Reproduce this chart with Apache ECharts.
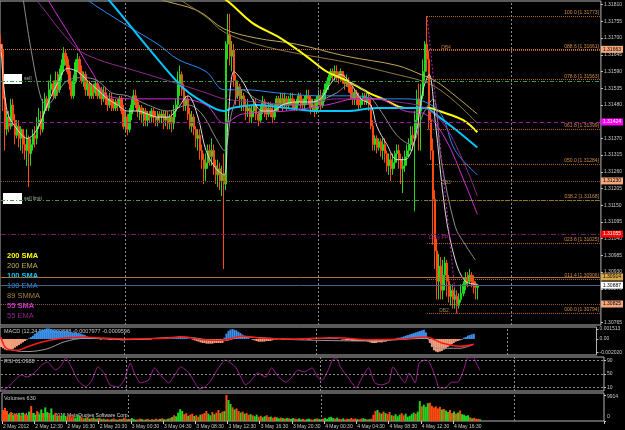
<!DOCTYPE html>
<html><head><meta charset="utf-8">
<script src="https://cdn.jsdelivr.net/npm/echarts@6/dist/echarts.min.js"></script>
<style>html,body{margin:0;padding:0;background:#000;}#c{width:625px;height:430px;}</style>
</head><body><div id="c"></div>
<script>
// ---------- DATA ----------
const slotCount = 299;
const dateLabels = ['2 May 2012','2 May 12:30','2 May 16:30','2 May 20:30','3 May 00:30','3 May 04:30','3 May 08:30','3 May 12:30','3 May 16:30','3 May 20:30','4 May 00:30','4 May 04:30','4 May 08:30','4 May 12:30','4 May 16:30'];
const priceTicks = [1.31810,1.31755,1.31700,1.31645,1.31590,1.31535,1.31480,1.31425,1.31370,1.31315,1.31260,1.31205,1.31150,1.31095,1.31040,1.30985,1.30930,1.30875,1.30820,1.30765];
// [open, close, low, high]
const ohlc = [
[1.3168,1.3166,1.3164,1.3171],[1.3166,1.3150,1.3146,1.3168],[1.3150,1.3140,1.3133,1.3151],[1.3140,1.3144,1.3138,1.3146],[1.3144,1.3141,1.3139,1.3146],
[1.3141,1.3148,1.3140,1.3150],[1.3148,1.3143,1.3141,1.3150],[1.3143,1.3138,1.3135,1.3145],[1.3138,1.3141,1.3137,1.3143],[1.3141,1.3137,1.3134,1.3143],
[1.3137,1.3140,1.3133,1.3141],[1.3140,1.3135,1.3132,1.3140],[1.3135,1.3133,1.3130,1.3138],[1.3133,1.3137,1.3128,1.3140],[1.3137,1.3132,1.3121,1.3138],
[1.3132,1.3135,1.3128,1.3137],[1.3135,1.3138,1.3133,1.3140],[1.3138,1.3137,1.3134,1.3141],[1.3137,1.3141,1.3135,1.3144],[1.3141,1.3143,1.3140,1.3147],
[1.3143,1.3140,1.3138,1.3146],[1.3140,1.3146,1.3139,1.3150],[1.3146,1.3150,1.3145,1.3152],[1.3150,1.3147,1.3146,1.3151],[1.3147,1.3153,1.3146,1.3156],
[1.3153,1.3155,1.3151,1.3158],[1.3155,1.3151,1.3150,1.3156],[1.3151,1.3156,1.3150,1.3159],[1.3156,1.3153,1.3151,1.3159],[1.3153,1.3158,1.3152,1.3160],
[1.3158,1.3161,1.3156,1.3163],[1.3161,1.3165,1.3159,1.3167],[1.3165,1.3163,1.3161,1.3166],[1.3163,1.3159,1.3158,1.3164],[1.3159,1.3155,1.3153,1.3161],
[1.3155,1.3151,1.3150,1.3156],[1.3151,1.3156,1.3150,1.3158],[1.3156,1.3162,1.3155,1.3163],[1.3162,1.3163,1.3159,1.3165],[1.3163,1.3159,1.3158,1.3164],
[1.3159,1.3156,1.3155,1.3161],[1.3156,1.3158,1.3154,1.3159],[1.3158,1.3153,1.3151,1.3159],[1.3153,1.3155,1.3151,1.3156],[1.3155,1.3151,1.3150,1.3156],
[1.3151,1.3154,1.3150,1.3155],[1.3154,1.3152,1.3150,1.3155],[1.3152,1.3155,1.3151,1.3156],[1.3155,1.3151,1.3150,1.3156],[1.3151,1.3153,1.3150,1.3154],
[1.3153,1.3150,1.3148,1.3154],[1.3150,1.3152,1.3149,1.3154],[1.3152,1.3150,1.3148,1.3154],[1.3150,1.3148,1.3146,1.3151],[1.3148,1.3150,1.3147,1.3152],
[1.3150,1.3148,1.3146,1.3152],[1.3148,1.3147,1.3146,1.3150],[1.3147,1.3149,1.3146,1.3150],[1.3149,1.3148,1.3146,1.3150],[1.3148,1.3150,1.3147,1.3151],
[1.3150,1.3146,1.3145,1.3151],[1.3146,1.3141,1.3140,1.3148],[1.3141,1.3144,1.3139,1.3146],[1.3144,1.3140,1.3138,1.3145],[1.3140,1.3145,1.3139,1.3147],
[1.3145,1.3148,1.3143,1.3150],[1.3148,1.3151,1.3146,1.3153],[1.3151,1.3149,1.3147,1.3153],[1.3149,1.3146,1.3144,1.3150],[1.3146,1.3147,1.3143,1.3148],
[1.3147,1.3145,1.3142,1.3148],[1.3145,1.3146,1.3141,1.3147],[1.3146,1.3143,1.3141,1.3147],[1.3143,1.3145,1.3141,1.3146],[1.3145,1.3144,1.3142,1.3146],
[1.3144,1.3146,1.3142,1.3147],[1.3146,1.3144,1.3142,1.3147],[1.3144,1.3143,1.3141,1.3146],[1.3143,1.3145,1.3141,1.3146],[1.3145,1.3144,1.3142,1.3146],
[1.3144,1.3145,1.3142,1.3146],[1.3145,1.3143,1.3140,1.3146],[1.3143,1.3144,1.3141,1.3146],[1.3144,1.3142,1.3140,1.3146],[1.3142,1.3144,1.3140,1.3145],
[1.3144,1.3142,1.3139,1.3146],[1.3142,1.3146,1.3140,1.3148],[1.3146,1.3148,1.3144,1.3150],[1.3148,1.3155,1.3147,1.3159],[1.3155,1.3158,1.3151,1.3161],
[1.3158,1.3153,1.3151,1.3159],[1.3153,1.3148,1.3146,1.3155],[1.3148,1.3150,1.3146,1.3151],[1.3150,1.3145,1.3143,1.3151],[1.3145,1.3141,1.3140,1.3147],
[1.3141,1.3144,1.3139,1.3146],[1.3144,1.3140,1.3138,1.3145],[1.3140,1.3137,1.3134,1.3141],[1.3137,1.3138,1.3133,1.3140],[1.3138,1.3133,1.3130,1.3140],
[1.3133,1.3130,1.3127,1.3135],[1.3130,1.3127,1.3122,1.3132],[1.3127,1.3129,1.3123,1.3132],[1.3129,1.3133,1.3127,1.3135],[1.3133,1.3131,1.3128,1.3135],
[1.3131,1.3133,1.3128,1.3137],[1.3133,1.3128,1.3125,1.3135],[1.3128,1.3125,1.3122,1.3130],[1.3125,1.3127,1.3121,1.3130],[1.3127,1.3123,1.3120,1.3129],
[1.3123,1.3125,1.3118,1.3128],[1.3125,1.3122,1.3094,1.3132],[1.3122,1.3168,1.3120,1.3169],[1.3168,1.3171,1.3163,1.3178],[1.3171,1.3164,1.3161,1.3178],
[1.3164,1.3166,1.3159,1.3169],[1.3166,1.3156,1.3154,1.3168],[1.3156,1.3151,1.3148,1.3158],[1.3151,1.3154,1.3150,1.3156],[1.3154,1.3150,1.3147,1.3155],
[1.3150,1.3151,1.3146,1.3153],[1.3151,1.3148,1.3146,1.3152],[1.3148,1.3146,1.3143,1.3150],[1.3146,1.3147,1.3144,1.3150],[1.3147,1.3144,1.3142,1.3148],
[1.3144,1.3146,1.3142,1.3148],[1.3146,1.3148,1.3144,1.3150],[1.3148,1.3145,1.3143,1.3150],[1.3145,1.3143,1.3141,1.3146],[1.3143,1.3146,1.3142,1.3148],
[1.3146,1.3149,1.3145,1.3151],[1.3149,1.3146,1.3144,1.3150],[1.3146,1.3145,1.3143,1.3148],[1.3145,1.3147,1.3144,1.3149],[1.3147,1.3146,1.3144,1.3149],
[1.3146,1.3144,1.3142,1.3148],[1.3144,1.3146,1.3143,1.3148],[1.3146,1.3150,1.3146,1.3151],[1.3150,1.3148,1.3146,1.3151],[1.3148,1.3150,1.3147,1.3152],
[1.3150,1.3148,1.3146,1.3152],[1.3148,1.3150,1.3147,1.3152],[1.3150,1.3148,1.3146,1.3151],[1.3148,1.3149,1.3147,1.3151],[1.3149,1.3150,1.3148,1.3152],
[1.3150,1.3148,1.3147,1.3152],[1.3148,1.3147,1.3146,1.3150],[1.3147,1.3149,1.3146,1.3150],[1.3149,1.3151,1.3148,1.3152],[1.3151,1.3149,1.3147,1.3152],
[1.3149,1.3148,1.3146,1.3150],[1.3148,1.3150,1.3146,1.3151],[1.3150,1.3151,1.3148,1.3153],[1.3151,1.3150,1.3148,1.3153],[1.3150,1.3147,1.3145,1.3151],
[1.3147,1.3148,1.3146,1.3150],[1.3148,1.3146,1.3144,1.3150],[1.3146,1.3150,1.3145,1.3151],[1.3150,1.3151,1.3148,1.3153],[1.3151,1.3148,1.3146,1.3153],
[1.3148,1.3150,1.3147,1.3152],[1.3150,1.3153,1.3149,1.3155],[1.3153,1.3155,1.3152,1.3156],[1.3155,1.3157,1.3153,1.3158],[1.3157,1.3159,1.3156,1.3160],
[1.3159,1.3158,1.3156,1.3160],[1.3158,1.3159,1.3156,1.3161],[1.3159,1.3158,1.3156,1.3161],[1.3158,1.3157,1.3155,1.3159],[1.3157,1.3159,1.3156,1.3160],
[1.3159,1.3156,1.3155,1.3159],[1.3156,1.3155,1.3153,1.3158],[1.3155,1.3156,1.3154,1.3158],[1.3156,1.3154,1.3152,1.3157],[1.3154,1.3152,1.3150,1.3155],
[1.3152,1.3150,1.3148,1.3154],[1.3150,1.3152,1.3148,1.3153],[1.3152,1.3150,1.3148,1.3153],[1.3150,1.3148,1.3146,1.3152],[1.3148,1.3150,1.3147,1.3151],
[1.3150,1.3151,1.3148,1.3152],[1.3151,1.3149,1.3148,1.3152],[1.3149,1.3150,1.3148,1.3152],[1.3150,1.3148,1.3146,1.3152],[1.3148,1.3141,1.3140,1.3150],
[1.3141,1.3135,1.3133,1.3143],[1.3135,1.3137,1.3133,1.3138],[1.3137,1.3134,1.3132,1.3138],[1.3134,1.3136,1.3133,1.3137],[1.3136,1.3133,1.3131,1.3137],
[1.3133,1.3135,1.3130,1.3137],[1.3135,1.3132,1.3129,1.3137],[1.3132,1.3128,1.3126,1.3133],[1.3128,1.3130,1.3125,1.3132],[1.3130,1.3127,1.3123,1.3132],
[1.3127,1.3129,1.3125,1.3132],[1.3129,1.3132,1.3127,1.3133],[1.3132,1.3133,1.3129,1.3135],[1.3133,1.3130,1.3127,1.3135],[1.3130,1.3127,1.3122,1.3132],
[1.3127,1.3128,1.3119,1.3131],[1.3128,1.3131,1.3126,1.3133],[1.3131,1.3133,1.3128,1.3135],[1.3133,1.3135,1.3131,1.3137],[1.3135,1.3138,1.3133,1.3141],
[1.3138,1.3137,1.3133,1.3141],[1.3137,1.3143,1.3113,1.3146],[1.3143,1.3150,1.3140,1.3153],[1.3150,1.3146,1.3133,1.3155],[1.3146,1.3151,1.3133,1.3155],
[1.3151,1.3159,1.3150,1.3163],[1.3159,1.3168,1.3156,1.3169],[1.3168,1.3163,1.3159,1.31773],[1.3163,1.3143,1.3140,1.3166],[1.3143,1.3133,1.3130,1.3146],
[1.3133,1.3117,1.3102,1.3137],[1.3117,1.3100,1.3094,1.3120],[1.3100,1.3090,1.3084,1.3104],[1.3090,1.3095,1.3084,1.3099],[1.3095,1.3087,1.3084,1.3098],
[1.3087,1.3092,1.3084,1.3097],[1.3092,1.3096,1.3087,1.3098],[1.3096,1.3090,1.3085,1.3097],[1.3090,1.3085,1.3083,1.3092],[1.3085,1.3087,1.3082,1.3089],
[1.3087,1.3084,1.3081,1.3089],[1.3084,1.3085,1.3081,1.3088],[1.3085,1.3082,1.30794,1.3087],[1.3082,1.3084,1.3081,1.3086],[1.3084,1.3086,1.3083,1.3089],
[1.3086,1.3089,1.3085,1.3090],[1.3089,1.3091,1.3087,1.3093],[1.3091,1.3090,1.3088,1.3093],[1.3090,1.3092,1.3089,1.3094],[1.3092,1.3090,1.3088,1.3093],
[1.3090,1.3089,1.3086,1.3092],[1.3089,1.3088,1.3084,1.3090],[1.3088,1.30887,1.3084,1.3089]
];
const volumes = [
4200,5000,3800,2600,3400,2200,2800,
2400,3000,2000,3200,2600,1800,3600,5700,3000,2400,
3800,2600,4400,3000,5200,3400,2800,
4800,2400,3000,1800,2200,1600,2600,
2000,1600,2400,1400,1800,1200,1600,2200,1400,1000,1200,1500,900,1100,1300,800,1000,1200,
700,900,600,800,500,700,1000,600,500,800,700,1200,900,600,800,1100,700,500,600,900,700,500,600,800,400,700,500,900,600,800,1000,700,600,900,1100,
1500,2200,1800,3200,4500,3800,2600,3000,2000,2400,2800,1900,2200,1600,2400,
2600,3000,3800,2800,2200,3400,2600,3200,4200,3000,3600,3800,
9914,8000,6500,5200,4400,4800,3800,3200,3600,2800,3000,2400,2600,
2200,1800,2400,1600,2000,1400,1800,2200,1500,1700,1200,1600,1400,1000,1300,1100,900,1200,1000,800,1100,900,700,1000,
600,800,500,700,900,600,500,800,1000,700,600,900,1200,800,1400,1600,1100,900,1300,800,700,1000,600,900,700,1200,800,1000,700,600,900,1100,800,600,700,900,
2400,3800,4200,3200,2800,3600,3000,2600,3400,2200,
2000,2600,1800,2400,3000,2200,2800,1600,2000,2600,3200,2800,3600,
7600,5600,6200,5400,6800,7000,
5800,5200,5600,4800,5400,4400,4600,
4000,3400,4200,3000,3600,2800,3200,4000,2600,2400,2000,2200,
1400,1000,1200,900,800,630
];
const macdHist = [
-0.0012,-0.0014,-0.0016,-0.0017,-0.0017,-0.0016,-0.0015,-0.0013,-0.0011,-0.0009,-0.0007,-0.0005,-0.0003,-0.0001,
0.0001,0.0003,0.0005,0.0008,0.0010,0.0012,0.0013,0.0014,0.0015,0.0016,0.0016,0.0015,0.0014,0.0013,0.0013,0.0012,0.0012,0.0012,0.0012,0.0012,0.0011,0.0011,0.0010,0.0010,0.0009,0.0009,0.0008,0.0007,0.0006,0.0004,
0.0003,0.0002,0.0001,0.0001,0.0001,0,-0.0001,0,0.0001,0,-0.0001,-0.0001,0,0,-0.0001,-0.0001,-0.0002,-0.0002,-0.0002,-0.0001,-0.0001,0,0,-0.0001,-0.0001,-0.0001,-0.0001,-0.0001,-0.0001,-0.0001,-0.0001,-0.0001,
0,0.0001,0.0001,0.0001,0.0001,0.0001,0.0001,0.0001,0.0001,0.0001,0.0002,0.0002,0.0003,0.0004,0.0004,0.0003,0.0003,0.0002,
0.0001,0,-0.0001,-0.0002,-0.0003,-0.0004,-0.0005,-0.0006,-0.0006,-0.0007,-0.0007,-0.0007,-0.0007,-0.0006,-0.0006,-0.0006,-0.0006,
-0.0006,0.0002,0.0008,0.0012,0.0014,0.0015,0.0014,0.0013,0.0011,0.0009,0.0007,0.0005,0.0003,0.0002,
0,-0.0001,-0.0002,-0.0003,-0.0004,-0.0004,-0.0004,-0.0004,-0.0003,-0.0003,-0.0003,-0.0002,-0.0001,-0.0001,0,0,-0.0001,-0.0001,0,0,-0.0001,0,0,
0,0,0,-0.0001,0,0,-0.0001,-0.0001,0,0,0,0.0001,0.0001,0.0001,0.0002,0.0002,0.0003,0.0003,0.0003,0.0002,0.0002,0.0001,
0,-0.0001,-0.0001,-0.0002,-0.0002,-0.0002,-0.0003,-0.0003,-0.0003,-0.0003,-0.0003,-0.0003,-0.0003,-0.0003,-0.0004,-0.0005,-0.0006,-0.0006,-0.0006,-0.0005,
-0.0005,-0.0005,-0.0004,-0.0004,-0.0003,-0.0002,-0.0001,0,0.0001,0.0002,
0.0002,0.0003,0.0004,0.0005,0.0006,0.0007,0.0008,0.0009,0.0010,0.0011,0.0012,0.0013,0.0014,
0.0010,0.0002,-0.0006,-0.0012,-0.0017,-0.0019,-0.0020,-0.0019,-0.0018,-0.0016,-0.0014,-0.0012,-0.0010,-0.0008,-0.0006,-0.0004,-0.0003,-0.0002,-0.0001,
0.0002,0.0003,0.0005,0.0006,0.0007,0.0008
];
const macdSignal = [[0,0.0003],[3,-0.0015],[8,-0.0017],[13,-0.0012],[20,-0.0005],[28,0.0000],[42,0.0003],[48,0.0002],[64,0.0000],[81,0.0001],[91,0.0003],[101,-0.0001],[111,-0.0002],[121,0.0004],[131,0.0001],[147,0.0000],[168,0.0002],[185,-0.0001],[201,0.0000],[213,0.0003],[221,-0.0006],[230,-0.0011],[237,-0.0008]];
const macdMain = [[0,-0.0001],[3,-0.0014],[13,-0.0019],[23,-0.0015],[32,-0.0004],[42,0.0001],[64,-0.0001],[91,0.0003],[111,-0.0003],[121,0.0003],[147,-0.0001],[185,-0.0003],[213,0.0001],[218,-0.0014],[230,-0.0014],[237,-0.0008]];
const rsi = [[0,6],[1,3],[3,9],[7,32],[10,47],[13,41],[17,56],[20,76],[23,85],[27,62],[30,76],[32,97],[35,68],[38,32],[42,12],[45,32],[48,71],[51,53],[54,18],[58,12],[61,32],[64,82],[66,53],[69,24],[73,32],[76,68],[79,47],[83,24],[86,47],[89,71],[93,53],[96,24],[98,6],[101,12],[104,32],[107,62],[111,91],[116,71],[119,38],[121,18],[124,32],[127,53],[131,41],[134,68],[137,44],[141,26],[144,41],[147,62],[150,56],[152,62],[154,68],[157,38],[159,32],[162,62],[164,91],[166,97],[168,71],[172,38],[176,9],[178,32],[182,68],[185,24],[188,18],[192,26],[194,71],[197,47],[200,24],[202,53],[205,24],[207,82],[210,91],[212,85],[215,41],[217,9],[220,9],[223,26],[226,26],[229,62],[231,97],[234,98],[235,85],[237,61.1]];
const rsiLevels = [90, 50, 10];
const sma200 = [[102,1.3185],[111,1.3183],[125,1.3175],[139,1.3170],[152,1.3164],[162,1.3159],[172,1.3156],[183,1.3152],[190,1.3150],[201,1.3147],[209,1.3147],[213,1.3147],[218,1.3146],[230,1.3143],[237,1.3139]];
const ema200 = [[70,1.3186],[78,1.3183],[98,1.3179],[111,1.3173],[127,1.3170],[147,1.3168],[172,1.3164],[197,1.3161],[209,1.3158],[216,1.3156],[226,1.3151],[237,1.3145]];
const smma89 = [[80,1.3186],[88,1.3183],[102,1.3177],[111,1.3172],[127,1.3168],[147,1.3165],[172,1.3162],[197,1.3158],[209,1.3156],[216,1.3154],[226,1.3149],[237,1.3142]];
const sma100 = [[48,1.3186],[53,1.3183],[68,1.3171],[78,1.3163],[90,1.3154],[98,1.3150],[111,1.3146],[115,1.3147],[127,1.3148],[142,1.3147],[157,1.3146],[172,1.3146],[187,1.3147],[201,1.3147],[211,1.3147],[216,1.3145],[226,1.3140],[237,1.3134]];
const ema100 = [[38,1.3186],[42,1.3183],[63,1.3174],[78,1.3168],[88,1.3163],[102,1.3159],[111,1.3153],[122,1.3153],[137,1.3152],[157,1.3151],[177,1.3151],[187,1.3150],[201,1.3150],[211,1.3149],[219,1.3145],[226,1.3133],[237,1.3125]];
const sma55 = [[21,1.3186],[23,1.3183],[37,1.3168],[46,1.3158],[53,1.3151],[68,1.3150],[88,1.3150],[102,1.3148],[111,1.3142],[120,1.3145],[142,1.3146],[162,1.3148],[177,1.3150],[187,1.3150],[201,1.3146],[211,1.3145],[221,1.3137],[231,1.3122],[237,1.3112]];
const ema55 = [[13,1.3186],[17,1.3183],[37,1.3167],[48,1.3163],[63,1.3160],[83,1.3156],[102,1.3152],[111,1.3150],[127,1.3149],[147,1.3148],[167,1.3150],[182,1.3150],[197,1.3149],[211,1.3147],[221,1.3141],[231,1.3128],[237,1.3118]];
const fastMA = [[0,1.3168],[3,1.3146],[8,1.3140],[13,1.3137],[18,1.3140],[23,1.3148],[28,1.3155],[33,1.3160],[38,1.3159],[43,1.3156],[48,1.3153],[53,1.3150],[58,1.3148],[63,1.3146],[68,1.3146],[73,1.3145],[78,1.3144],[83,1.3144],[88,1.3147],[93,1.3151],[98,1.3144],[102,1.3133],[107,1.3127],[111,1.3125],[113,1.3143],[116,1.3159],[120,1.3156],[125,1.3150],[130,1.3146],[135,1.3146],[140,1.3148],[147,1.3149],[154,1.3149],[159,1.3150],[164,1.3155],[169,1.3158],[174,1.3155],[179,1.3150],[184,1.3148],[187,1.3141],[192,1.3135],[197,1.3130],[201,1.3130],[206,1.3137],[210,1.3153],[213,1.3158],[216,1.3143],[221,1.3113],[226,1.3097],[231,1.3090],[237,1.3089]];
const slowMA = [[11,1.3183],[15,1.3166],[20,1.3150],[23,1.3148],[28,1.3152],[33,1.3156],[41,1.3157],[48,1.3156],[55,1.3152],[63,1.3151],[73,1.3148],[83,1.3146],[93,1.3148],[100,1.3145],[107,1.3137],[111,1.3133],[115,1.3146],[120,1.3153],[127,1.3150],[137,1.3148],[147,1.3148],[157,1.3149],[167,1.3152],[174,1.3155],[182,1.3152],[189,1.3146],[197,1.3138],[204,1.3135],[210,1.3145],[215,1.3150],[219,1.3130],[226,1.3108],[231,1.3102],[236,1.3097]];
const fibNames = ['100.0','088.6','078.6','061.8','050.0','038.2','023.6','011.4','000.0'];
const fibPrices = [1.31773,1.31661,1.31563,1.31399,1.31284,1.31168,1.31025,1.30906,1.30794];
const fibStart = 212;
const swingPoints = [[212,1.31773],[227,1.30794]];
const levelPrices = [1.31663,1.31559,1.31424,1.31230,1.31168,1.31055,1.30914,1.30887,1.30825];
const annotations = [['DB4',219,1.3167],['DB3',219,1.31226],['Daily PP',213,1.31042],['DB2',218,1.30802]];
const macdTicks = [0.001513, 0, -0.00202];
const volTicks = [9914, 0];

// ---------- BUILD ----------
const cats = [];
const t0 = Date.UTC(2012,4,2,8,30);
for (let i = 0; i < slotCount; i++) {
  const d = new Date(t0 + i*900000);
  cats.push(d.getUTCDate() + ' May ' + String(d.getUTCHours()).padStart(2,'0') + ':' + String(d.getUTCMinutes()).padStart(2,'0'));
}
const dayBreaks = [];
cats.forEach((c,i)=>{ if (i>0 && c.endsWith('00:00')) dayBreaks.push(i); });

const FONT = '"Liberation Sans", Arial, sans-serif';
const AX = '#c8c8c8';
const UP = '#1fd81f', DOWN = '#ff4a12';
const firstCat = cats[0], lastCat = cats[slotCount-1];

const levelStyles = [
  {color:'#c8783a', type:'dotted', box:'#f6a77c', txt:'#000'},
  {color:'#3e9a3e', type:[4,2,1,2], box:null},
  {color:'#9a1a9a', type:[4,3], box:'#ff00ff', txt:'#fff'},
  {color:'#8b5a2b', type:'dotted', box:'#f6a77c', txt:'#000'},
  {color:'#3e9a3e', type:[4,2,1,2], box:null},
  {color:'#7e1a6c', type:[5,2,1,2], box:'#ff0000', txt:'#fff'},
  {color:'#a8763a', type:'solid', box:'#d9a84a', txt:'#000'},
  {color:'#4e6284', type:'solid', box:'#ffffff', txt:'#000'},
  {color:'#8b5a2b', type:'dotted', box:'#f6a77c', txt:'#000'}
];

const vSep = dayBreaks.map(i => ({xAxis: i, lineStyle:{color:'#8a8a8a', type:[2,2], width:1}, label:{show:false}}));

const markData = [];
levelPrices.forEach((p,k)=>{
  const st = levelStyles[k];
  markData.push([
    {coord:[firstCat, p], lineStyle:{color:st.color, type:st.type, width:1},
     label: st.box ? {show:true, position:'end', distance:1, formatter:p.toFixed(5), backgroundColor:st.box, color:st.txt, fontSize:5, fontFamily:FONT, padding:[1,2,1,2]} : {show:false}},
    {coord:[lastCat, p]}
  ]);
});
fibPrices.forEach((p,k)=>{
  markData.push([
    {coord:[cats[fibStart], p], lineStyle:{color:'#b8691f', type:'dotted', width:1},
     label:{show:true, position:'insideEndTop', distance:1, formatter: fibNames[k]+' ['+p.toFixed(5)+']', color:'#d08a48', fontSize:5, fontFamily:FONT}},
    {coord:[lastCat, p]}
  ]);
});
vSep.forEach(v => markData.push(v));

function ma(data, color, width) {
  return {type:'line', xAxisIndex:0, yAxisIndex:0, data:data, symbol:'none', smooth:0.35, silent:true,
    lineStyle:{color:color, width:width}, z:3, animation:false};
}

const axisBase = (gi, show) => ({
  type:'category', gridIndex:gi, data:cats, boundaryGap:true,
  axisLine:{show:false}, splitLine:{show:false},
  axisTick: show ? {show:true, length:3, lineStyle:{color:AX}, interval:(i,v)=> i===0 || dateLabels.indexOf(v)>=0} : {show:false},
  axisLabel: show ? {show:true, color:AX, fontSize:5, fontFamily:FONT, align:'left', margin:3,
     interval:(i,v)=> i===0 || dateLabels.indexOf(v)>=0, formatter:(v,i)=> i===0 ? dateLabels[0] : v} : {show:false}
});

const yBase = (gi, min, max, ticks, fmt) => ({
  type:'value', gridIndex:gi, position:'right', min:min, max:max, scale:true,
  axisLine:{show:false}, splitLine:{show:false},
  axisTick:{show:true, length:2, lineStyle:{color:AX}, customValues:ticks},
  axisLabel:{show:true, color:AX, fontSize:5, fontFamily:FONT, margin:3, customValues:ticks, formatter:fmt}
});

const grids = [
  {left:0, width:604, top:1, height:324},
  {left:0, width:604, top:327, height:28},
  {left:0, width:604, top:357, height:34},
  {left:0, width:604, top:393, height:28}
].map(g => Object.assign(g, {show:true, borderColor:'#b4b4b4', borderWidth:1, backgroundColor:'transparent', containLabel:false}));

const volAxis = yBase(3, 0, 10676, volTicks, v => v===0 ? '{lo|0}' : '{hi|'+v+'}');
volAxis.axisLabel.rich = {lo:{padding:[0,0,9,0], color:AX, fontSize:5, fontFamily:FONT}, hi:{padding:[3,0,0,0], color:AX, fontSize:5, fontFamily:FONT}};

const legendItems = [
  ['200 SMA','#ffff00',true],['200 EMA','#c0a858',false],['100 SMA','#00c8ff',true],['100 EMA','#2a8cf0',false],
  ['89 SMMA','#a08444',false],['55 SMA','#d230d2',true],['55 EMA','#8e2a8e',false]
];
const graphics = [];
legendItems.forEach((it,k)=>{
  graphics.push({type:'text', x:7, y:256 + k*10, silent:true,
    style:{text:it[0], fill:it[1], font:(it[2]?'bold ':'')+'7.5px '+FONT, verticalAlign:'middle'}});
});
graphics.push({type:'rect', shape:{x:3,y:74,width:19,height:10}, style:{fill:'#fff'}, silent:true});
graphics.push({type:'text', x:24, y:79, style:{text:'sell', fill:'#a8a8a8', font:'5px '+FONT, verticalAlign:'middle'}, silent:true});
graphics.push({type:'rect', shape:{x:3,y:193,width:19,height:11}, style:{fill:'#fff'}, silent:true});
graphics.push({type:'text', x:24, y:199, style:{text:'sell limit', fill:'#a8a8a8', font:'5px '+FONT, verticalAlign:'middle'}, silent:true});
graphics.push({type:'text', x:4, y:331, style:{text:'MACD (12,24,9) 0.0000888 -0.0007977 -0.0009596', fill:'#c8c8c8', font:'5.5px '+FONT, verticalAlign:'middle'}, silent:true});
graphics.push({type:'text', x:4, y:361, style:{text:'RSI 61.0988', fill:'#c8c8c8', font:'5.5px '+FONT, verticalAlign:'middle'}, silent:true});
graphics.push({type:'text', x:4, y:398, style:{text:'Volumes 630', fill:'#c8c8c8', font:'5.5px '+FONT, verticalAlign:'middle'}, silent:true});
graphics.push({type:'text', x:3, y:416, style:{text:'EURUSD,M15 \u00a9 2001-2012 MetaQuotes Software Corp.', fill:'#d8d8d8', font:'5px '+FONT, verticalAlign:'middle'}, silent:true});

const option = {
  backgroundColor:'#000',
  animation:false,
  textStyle:{fontFamily:FONT},
  grid: grids,
  xAxis: [axisBase(0,false), axisBase(1,false), axisBase(2,false), axisBase(3,true)],
  yAxis: [
    yBase(0, 1.30756, 1.31822, priceTicks, v => v.toFixed(5)),
    yBase(1, -0.002421, 0.001816, macdTicks, v => v===0 ? '0.00' : v.toFixed(6)),
    yBase(2, 0, 100, rsiLevels, v => String(v)),
    volAxis
  ],
  graphic: graphics,
  series: [
    {type:'candlestick', xAxisIndex:0, yAxisIndex:0, data:ohlc, barWidth:2, silent:true, z:2,
      itemStyle:{color:UP, color0:DOWN, borderColor:UP, borderColor0:DOWN, borderWidth:1}},
    {type:'line', xAxisIndex:0, yAxisIndex:0, data:[], silent:true, z:1,
      markLine:{symbol:['none','none'], silent:true, animation:false, data:markData}},
    ma(ema200, '#c0a858', 1),
    ma(smma89, '#8e7a3e', 1),
    ma(sma200, '#ffff00', 2),
    ma(ema100, '#2a8cf0', 1),
    ma(sma100, '#00c8ff', 2),
    ma(ema55, '#8e2a8e', 1),
    ma(sma55, '#d230d2', 1),
    ma(slowMA, '#8c8c8c', 1),
    ma(fastMA, '#dcdcdc', 1),
    {type:'line', xAxisIndex:0, yAxisIndex:0, data:swingPoints, symbol:'circle', symbolSize:4,
      itemStyle:{color:'#ff9a70'}, lineStyle:{color:'#c020c0', type:[2,2], width:1}, z:4, silent:true},
    {type:'scatter', xAxisIndex:0, yAxisIndex:0, symbolSize:0, silent:true, z:5,
      data: annotations.map((a,k)=>({value:[a[1],a[2]], label:{show:true, formatter:a[0], position:'right', distance:0,
        color: ['#e08a4a','#b89a6a','#c030a0','#b89a6a'][k], fontSize:5, fontFamily:FONT}}))},
    {type:'bar', xAxisIndex:1, yAxisIndex:1, barWidth:2, silent:true,
      data: macdHist.map(v => ({value:v, itemStyle:{color: v>=0 ? '#3a90ea' : '#f4a07c'}})),
      markLine:{symbol:['none','none'], silent:true, data: vSep}},
    {type:'line', xAxisIndex:1, yAxisIndex:1, data:macdMain, symbol:'none', smooth:0.35, lineStyle:{color:'#9a9a9a', width:1}, silent:true},
    {type:'line', xAxisIndex:1, yAxisIndex:1, data:macdSignal, symbol:'none', smooth:0.35, lineStyle:{color:'#ff1a1a', width:1.5}, silent:true},
    {type:'line', xAxisIndex:2, yAxisIndex:2, data:rsi, symbol:'none', smooth:0.2, lineStyle:{color:'#9a1f90', width:1}, silent:true,
      markLine:{symbol:['none','none'], silent:true,
        data: rsiLevels.map(v => [{coord:[firstCat, v], lineStyle:{color:'#8a8a8a', type:[2,2], width:1}, label:{show:false}}, {coord:[lastCat, v]}]).concat(vSep)}},
    {type:'bar', xAxisIndex:3, yAxisIndex:3, barWidth:2, silent:true,
      data: volumes.map((v,i)=>({value:v, itemStyle:{color: ohlc[i][1] >= ohlc[i][0] ? UP : DOWN}})),
      markLine:{symbol:['none','none'], silent:true, data: vSep}}
  ]
};
const chart = echarts.init(document.getElementById('c'), null, {renderer:'canvas'});
chart.setOption(option);
</script>
</body></html>
